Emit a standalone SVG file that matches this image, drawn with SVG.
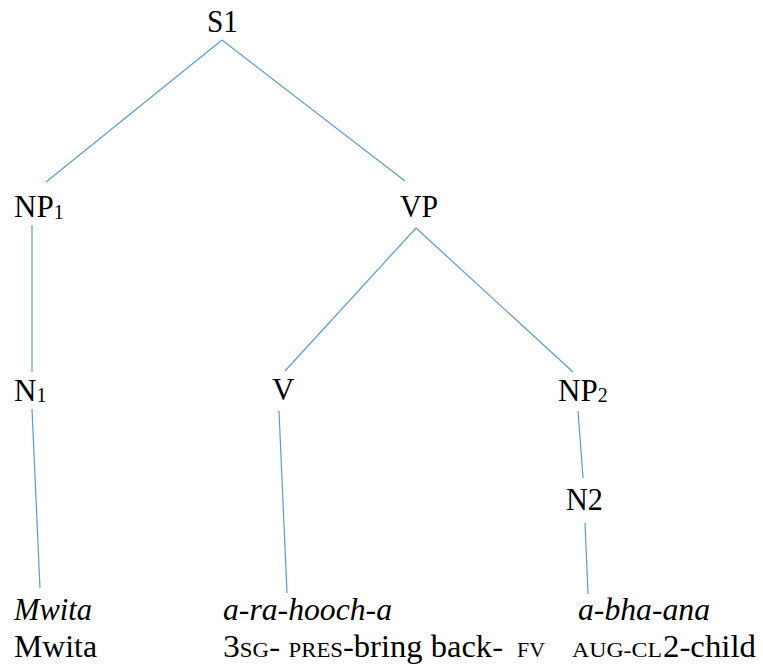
<svg xmlns="http://www.w3.org/2000/svg" width="763" height="667" viewBox="0 0 763 667">
  <style>
    .lbl { font-family: "Times New Roman", Tinos, "Liberation Serif", "DejaVu Serif", serif; font-size: 31px; fill: #000; }
    .sub { font-size: 20px; }
    .it { font-style: italic; }
    .sc { font-size: 21px; }
    .edge { stroke: #5B9BD5; stroke-width: 1.2; fill: none; }
  </style>
  <rect width="763" height="667" fill="#fff"/>

  <!-- tree branches -->
  <g id="connectors">
    <line class="edge" x1="222" y1="40" x2="46" y2="182"/>
    <line class="edge" x1="222" y1="40" x2="405" y2="181"/>
    <line class="edge" x1="32" y1="225" x2="32" y2="372"/>
    <line class="edge" x1="416" y1="228" x2="285" y2="371"/>
    <line class="edge" x1="416" y1="228" x2="573" y2="372"/>
    <line class="edge" x1="32" y1="409" x2="40" y2="588"/>
    <line class="edge" x1="279" y1="411" x2="287" y2="593"/>
    <line class="edge" x1="578" y1="411" x2="583" y2="478"/>
    <line class="edge" x1="585" y1="523" x2="588" y2="594"/>
  </g>

  <!-- category nodes -->
  <g id="node-S1"><text class="lbl" x="207" y="32" textLength="31" lengthAdjust="spacingAndGlyphs">S1</text></g>
  <g id="node-NP1"><text class="lbl" x="14" y="217">NP<tspan class="sub" dy="2">1</tspan></text></g>
  <g id="node-VP"><text class="lbl" x="400" y="217" textLength="38" lengthAdjust="spacingAndGlyphs">VP</text></g>
  <g id="node-N1"><text class="lbl" x="14" y="401">N<tspan class="sub" dy="1">1</tspan></text></g>
  <g id="node-V"><text class="lbl" x="272" y="400">V</text></g>
  <g id="node-NP2"><text class="lbl" x="558" y="401">NP<tspan class="sub" dy="1">2</tspan></text></g>
  <g id="node-N2"><text class="lbl" x="566" y="510" textLength="37" lengthAdjust="spacingAndGlyphs">N2</text></g>

  <!-- leaves: word forms and glosses -->
  <g id="leaf-mwita">
    <text class="lbl it" x="14" y="620" textLength="78" lengthAdjust="spacingAndGlyphs">Mwita</text>
    <text class="lbl" x="14" y="657" textLength="83" lengthAdjust="spacingAndGlyphs">Mwita</text>
  </g>
  <g id="leaf-verb">
    <text class="lbl it" x="223" y="620" textLength="169" lengthAdjust="spacingAndGlyphs">a-ra-hooch-a</text>
    <text class="lbl" x="223" y="657" textLength="120" lengthAdjust="spacingAndGlyphs">3<tspan class="sc">SG</tspan>- <tspan class="sc">PRES</tspan></text>
    <text class="lbl" x="343" y="657" textLength="160" lengthAdjust="spacingAndGlyphs">-bring back-</text>
    <text class="lbl sc" x="517" y="657" textLength="28" lengthAdjust="spacingAndGlyphs">FV</text>
  </g>
  <g id="leaf-noun">
    <text class="lbl it" x="578" y="620" textLength="132" lengthAdjust="spacingAndGlyphs">a-bha-ana</text>
    <text class="lbl sc" x="572" y="657" textLength="90" lengthAdjust="spacingAndGlyphs">AUG-CL</text>
    <text class="lbl" x="663" y="657" textLength="93" lengthAdjust="spacingAndGlyphs">2-child</text>
  </g>
</svg>
